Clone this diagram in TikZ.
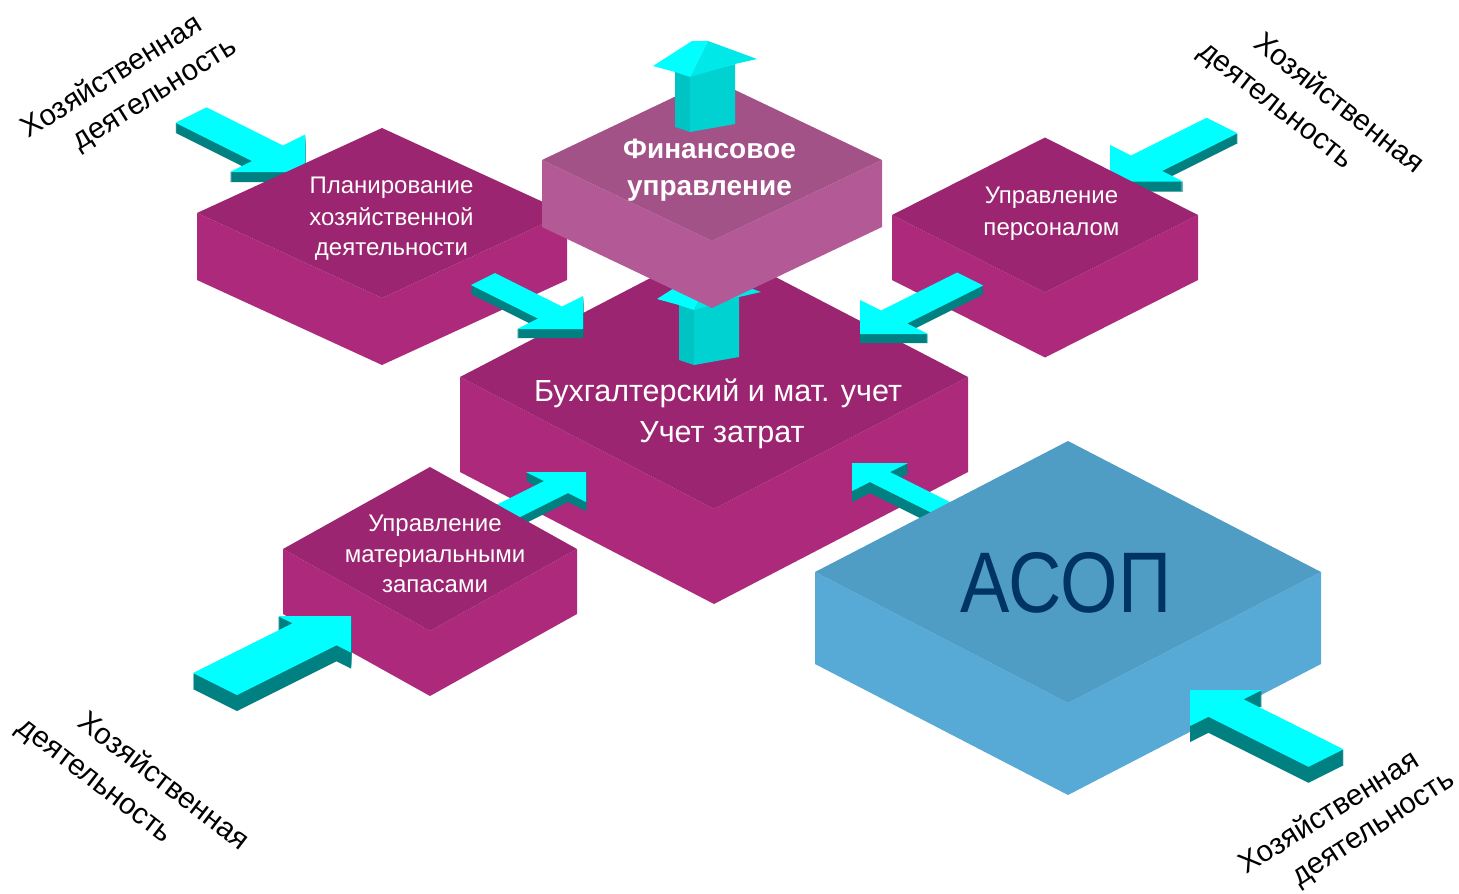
\documentclass[tikz,border=0pt]{standalone}
\usepackage{fontspec}
\setmainfont{Liberation Sans}
\definecolor{magtop}{RGB}{155,37,112}
\definecolor{magside}{RGB}{172,41,124}
\definecolor{fintop}{RGB}{163,82,136}
\definecolor{finside}{RGB}{179,90,150}
\definecolor{asoptop}{RGB}{79,156,196}
\definecolor{asopside}{RGB}{87,169,214}
\definecolor{acyan}{RGB}{0,255,255}
\definecolor{acyan2}{RGB}{0,232,232}
\definecolor{ateal}{RGB}{0,128,128}
\definecolor{ashaftL}{RGB}{0,196,196}
\definecolor{ashaftF}{RGB}{0,210,210}
\definecolor{navy}{RGB}{0,51,102}
% isometric slab: #1 cx, #2 cy (top face centre), #3 half width, #4 half height, #5 thickness, #6 top colour, #7 side colour
\newcommand\isobox[7]{%
  \fill[#7] (#1-#3,#2) -- (#1,#2+#4) -- (#1+#3,#2) -- (#1+#3,#2+#5) -- (#1,#2+#4+#5) -- (#1-#3,#2+#5) -- cycle;
  \fill[#6] (#1-#3,#2) -- (#1,#2-#4) -- (#1+#3,#2) -- (#1,#2+#4) -- cycle;}
% flat isometric arrow: #1 origin, #2 direction (canvas pt), #3 width axis (canvas pt), #4 length, #5 head length, #6 half shaft, #7 half head, #8 thickness
\newcommand\flatarrow[8]{%
  \begin{scope}[shift={(#1)}, x={(#2)}, y={(#3)}]
    \foreach \k in {1,...,#8}{%
      \fill[ateal, yshift={-\k*1pt}] (0,-#6) -- (#4-#5,-#6) -- (#4-#5,-#7) -- (#4,0) -- (#4-#5,#7) -- (#4-#5,#6) -- (0,#6) -- cycle;}
    \fill[acyan] (0,-#6) -- (#4-#5,-#6) -- (#4-#5,-#7) -- (#4,0) -- (#4-#5,#7) -- (#4-#5,#6) -- (0,#6) -- cycle;
  \end{scope}}
% upward arrow, shifted by #1
\newcommand\vertarrow[1]{%
  \begin{scope}[shift={(#1)}]
    \fill[ashaftL] (675,71) -- (690,76) -- (690,132) -- (675,127) -- cycle;
    \fill[ashaftF] (690,76) -- (735,64) -- (735,124) -- (690,132) -- cycle;
    \fill[acyan] (653,66) -- (692,41) -- (708,41) -- (690,77) -- (675,72) -- cycle;
    \fill[acyan2] (708,41) -- (757,59) -- (735,64) -- (690,77) -- cycle;
  \end{scope}}
\begin{document}
\begin{tikzpicture}[x=1pt,y=-1pt,
  boxtxt/.style={text=white, anchor=base, inner sep=0pt, font=\fontsize{24}{28}\selectfont},
  fintxt/.style={text=white, anchor=base, inner sep=0pt, font=\bfseries\fontsize{28}{32}\selectfont},
  maintxt/.style={text=white, anchor=base, inner sep=0pt, font=\fontsize{30.5}{34}\selectfont},
  corner/.style={text=black, anchor=center, inner sep=0pt, font=\fontsize{29.5}{34}\selectfont}]
\useasboundingbox (0,0) rectangle (1459,894);

% arrows lying behind boxes
\flatarrow{191,115}{1pt,-0.5pt}{1pt,0.5pt}{114}{37.5}{15.5}{37.5}{10}
\flatarrow{1222,125.5}{-1pt,-0.5pt}{-1pt,0.5pt}{112}{36.5}{15.5}{36.5}{10}

% central box
\isobox{714}{377}{254}{132}{95}{magtop}{magside}
\vertarrow{4,233}

% planning
\isobox{382}{213}{185}{85}{67}{magtop}{magside}
\node[boxtxt] (plan1) at (391.5,193) {Планирование};
\node[boxtxt] (plan2) at (391.5,225) {хозяйственной};
\node[boxtxt] (plan3) at (391.5,255) {деятельности};

% personnel
\isobox{1045}{215}{153}{77.5}{65}{magtop}{magside}
\node[boxtxt] (pers1) at (1051.5,203) {Управление};
\node[boxtxt] (pers2) at (1051.5,235) {персоналом};

\flatarrow{483,279}{1pt,-0.5pt}{1pt,0.5pt}{100}{33}{12}{33}{9}
\flatarrow{970,279}{-1pt,-0.5pt}{-1pt,0.5pt}{110}{34}{13}{34}{9}
\flatarrow{476,527}{1pt,0.5pt}{1pt,-0.5pt}{110}{30}{12}{30}{9}

\node[maintxt] (main1) at (718,401) {Бухгалтерский и мат. учет};
\node[maintxt] (main2) at (722,442) {Учет затрат};

% materials
\isobox{430}{549}{147}{82}{65}{magtop}{magside}
\node[boxtxt] (mat1) at (435,531) {Управление};
\node[boxtxt] (mat2) at (435,562) {материальными};
\node[boxtxt] (mat3) at (435,592) {запасами};
\flatarrow{215,684}{1pt,0.5pt}{1pt,-0.5pt}{136}{36.5}{22}{36.5}{16}

% ASOP
\flatarrow{972,523}{-1pt,0.5pt}{1pt,0.5pt}{120}{28}{10}{28}{11}
\isobox{1068}{572}{253}{131}{92}{asoptop}{asopside}
\node[anchor=base, inner sep=0pt, text=navy, font=\fontsize{86}{90}\selectfont] (asop) at (1066,612) {\scalebox{0.86}[1]{АСОП}};
\flatarrow{1326,758}{-1pt,0.5pt}{1pt,0.5pt}{136}{36}{17.5}{36}{16}

% finance
\isobox{712}{160}{170}{81}{67}{fintop}{finside}
\node[fintxt] (fin1) at (709.5,158) {Финансовое};
\node[fintxt] (fin2) at (709.5,195) {управление};
\vertarrow{0,0}

% corner labels
\node[corner, rotate=32] (tl1) at (110.5,75) {Хозяйственная};
\node[corner, rotate=32] (tl2) at (156.5,97) {деятельность};
\node[corner, rotate=-38] (tr1) at (1340,102) {Хозяйственная};
\node[corner, rotate=-38] (tr2) at (1274,108) {деятельность};
\node[corner, rotate=-37.5] (bl1) at (165,780) {Хозяйственная};
\node[corner, rotate=-37.5] (bl2) at (93,783) {деятельность};
\node[corner, rotate=32] (br1) at (1328,811) {Хозяйственная};
\node[corner, rotate=33] (br2) at (1375,831) {деятельность};
\end{tikzpicture}
\end{document}
